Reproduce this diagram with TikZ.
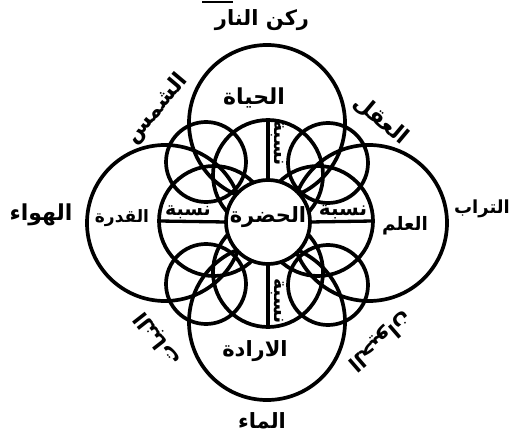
\documentclass[tikz,border=0pt]{standalone}
\usepackage{fontspec}
\TeXXeTstate=1
\newfontfamily\ar[Script=Arabic]{DejaVu Sans Bold}
\newcommand{\AR}[1]{\beginR #1\endR}
\newcommand{\fs}[1]{\fontsize{#1}{#1}\selectfont}
\tikzset{
  ring/.style={draw=black, line width=3.7pt, circle, inner sep=0pt, outer sep=0pt},
  bar/.style={draw=black, line width=3.3pt},
  lab/.style={font=\ar\fs{21}, inner sep=0pt, text=black},
}
\begin{document}
\begin{tikzpicture}[x=1pt,y=-1pt]
\useasboundingbox (0,0) rectangle (509,441);
% big circles
\node[ring, minimum size=156pt] (T) at (267,123) {};
\node[ring, minimum size=156pt] (B) at (267,322) {};
\node[ring, minimum size=156pt] (L) at (165,223) {};
\node[ring, minimum size=156pt] (R) at (369,223) {};
% diagonal circles
\node[ring, minimum size=80pt] (UL) at (206,162) {};
\node[ring, minimum size=80pt] (UR) at (328,163) {};
\node[ring, minimum size=80pt] (LL) at (206,284) {};
\node[ring, minimum size=80pt] (LR) at (328,285) {};
% orthogonal medium circles
\node[ring, minimum size=110pt] (mT) at (268,175) {};
\node[ring, minimum size=110pt] (mB) at (268,272) {};
\node[ring, minimum size=110pt] (mL) at (214,221) {};
\node[ring, minimum size=110pt] (mR) at (318,221) {};
% centre
\node[ring, minimum size=84pt, fill=white] (O) at (268,222) {};
% bars
\draw[bar] (O.north) -- (mT.north);
\draw[bar] (O.south) -- (mB.south);
\draw[bar] (O.west) -- (mL.west);
\draw[bar] (O.east) -- (mR.east);
% small stroke at top
\coordinate (s1) at (202,2);
\coordinate (s2) at (233,2);
\draw[line width=1.8pt] (s1) -- (s2);
% labels
\node[lab] (fire) at (262,20) {\AR{ركن النار}};
\node[lab, font=\ar\fs{22}] (life) at (254,98) {\AR{الحياة}};
\node[lab, font=\ar\fs{22}, rotate=50] (sun) at (157,109) {\AR{الشمس}};
\node[lab, font=\ar\fs{22}, rotate=-40] (aql) at (381,120) {\AR{العقل}};
\node[lab, font=\ar\fs{22}] (air) at (41,215) {\AR{الهواء}};
\node[lab, font=\ar\fs{17}] (power) at (122,218) {\AR{القدرة}};
\node[lab, font=\ar\fs{19}, anchor=south] (nL) at (188,219) {\AR{نسبة}};
\node[lab, font=\ar\fs{21}] (hadra) at (268,217) {\AR{الحضرة}};
\node[lab, font=\ar\fs{20}, anchor=south] (nR) at (343,219) {\AR{نسبة}};
\node[lab, font=\ar\fs{18.5}] (know) at (405,226) {\AR{العلم}};
\node[lab, font=\ar\fs{18}] (earth) at (482,209) {\AR{التراب}};
\node[lab, font=\ar\fs{19}, anchor=south, rotate=-90] (nT) at (271,143) {\AR{نسبة}};
\node[lab, font=\ar\fs{19}, anchor=south, rotate=-90] (nB) at (271,301) {\AR{نسبة}};
\node[lab] (will) at (255,351) {\AR{الارادة}};
\node[lab] (water) at (262,421) {\AR{الماء}};
\node[lab, rotate=128] (plants) at (158,339) {\AR{النبات}};
\node[lab, rotate=-139] (animals) at (380,341) {\AR{الحيوان}};
\end{tikzpicture}
\end{document}
